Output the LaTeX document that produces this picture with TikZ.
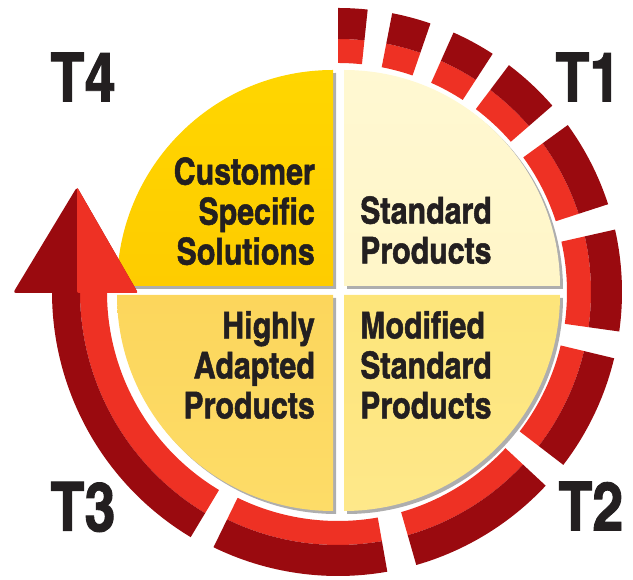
\documentclass[tikz,border=0pt]{standalone}
\usepackage{fontspec}
\newfontfamily\cnbold[FakeBold=1.3]{texgyreheroscn-bold.otf}
\usetikzlibrary{shadows,calc}
\definecolor{ringdark}{HTML}{9A0A0F}
\definecolor{ringlight}{HTML}{EE3124}
\definecolor{inktext}{HTML}{231F20}
\tikzset{
  quarter/.style={drop shadow={shadow xshift=3pt,shadow yshift=-3pt,fill=black!45,opacity=.7}},
  tlabel/.style={font=\cnbold\fontsize{68}{68}\selectfont,text=inktext,inner sep=0pt},
  qtext/.style={font=\cnbold\fontsize{37}{40}\selectfont,text=inktext,inner sep=0pt},
}
\begin{document}
\begin{tikzpicture}[x=1pt,y=1pt]
  \useasboundingbox (0,0) rectangle (633,580);
  \coordinate (C) at (338,288);
  % quarters
  \path[quarter,shade,shading angle=45,top color={rgb,255:red,255;green,214;blue,0},middle color={rgb,255:red,255;green,224;blue,0},bottom color={rgb,255:red,254;green,204;blue,0}]
    (333,294) -- ++(0,216) arc[start angle=90,end angle=180,radius=216pt] -- cycle;
  \path[quarter,shade,shading angle=-45,top color={rgb,255:red,255;green,248;blue,210},middle color={rgb,255:red,252;green,234;blue,165},bottom color={rgb,255:red,255;green,246;blue,200}]
    (344,294) -- ++(216,0) arc[start angle=0,end angle=90,radius=216pt] -- cycle;
  \path[quarter,shade,shading angle=45,top color={rgb,255:red,252;green,214;blue,92},middle color={rgb,255:red,255;green,231;blue,128},bottom color={rgb,255:red,253;green,220;blue,104}]
    (333,285) -- ++(-216,0) arc[start angle=180,end angle=270,radius=216pt] -- cycle;
  \path[quarter,shade,shading angle=-45,top color={rgb,255:red,253;green,229;blue,122},middle color={rgb,255:red,255;green,242;blue,174},bottom color={rgb,255:red,254;green,232;blue,138}]
    (344,285) -- ++(0,-216) arc[start angle=270,end angle=360,radius=216pt] -- cycle;
  % ring segments
  \foreach \a/\b in {90/84,79/71,66/57,53/41,36/18,12.7/-8,-13.5/-37.5,-43/-74,-80/-116}{
    \fill[ringlight] ($(C)+(\a:229pt)$) arc[start angle=\a,end angle=\b,radius=229pt]
      -- ($(C)+(\b:253pt)$) arc[start angle=\b,end angle=\a,radius=253pt] -- cycle;
    \fill[ringdark] ($(C)+(\a:253pt)$) arc[start angle=\a,end angle=\b,radius=253pt]
      -- ($(C)+(\b:284pt)$) arc[start angle=\b,end angle=\a,radius=284pt] -- cycle;
  }
  % arrow
  \fill[ringlight] ($(C)+(-121:231pt)$) arc[start angle=-121,end angle=-180,radius=231pt]
    -- ($(C)+(180:258pt)$) arc[start angle=-180,end angle=-121,radius=258pt] -- cycle;
  \fill[ringdark] ($(C)+(-121:258pt)$) arc[start angle=-121,end angle=-180,radius=258pt]
    -- ($(C)+(180:286pt)$) arc[start angle=-180,end angle=-121,radius=286pt] -- cycle;
  \coordinate (tip) at (77,393);
  \coordinate (hl) at (13,287);
  \coordinate (hr) at (138,287);
  \coordinate (hm) at (77,287);
  \fill[ringdark,rounded corners=3pt] (hm) -- (hl) -- (tip) -- (hr) -- cycle;
  \fill[ringlight,rounded corners=2pt] (tip) -- (hr) -- (hm) -- cycle;
  % labels
  \node[tlabel] (t4) at (83,503) {T4};
  \node[tlabel] (t1) at (588,503) {T1};
  \node[tlabel] (t2) at (591,74) {T2};
  \node[tlabel] (t3) at (83,73) {T3};
  \node[qtext,align=right,anchor=north east] (css) at (315,423) {Customer\\Specific\\Solutions};
  \node[qtext,align=left,anchor=north west] (sp) at (360,384) {Standard\\Products};
  \node[qtext,align=left,anchor=north west] (msp) at (360,269) {Modified\\Standard\\Products};
  \node[qtext,align=right,anchor=north east] (hap) at (315,269) {Highly\\Adapted\\Products};
\end{tikzpicture}
\end{document}
